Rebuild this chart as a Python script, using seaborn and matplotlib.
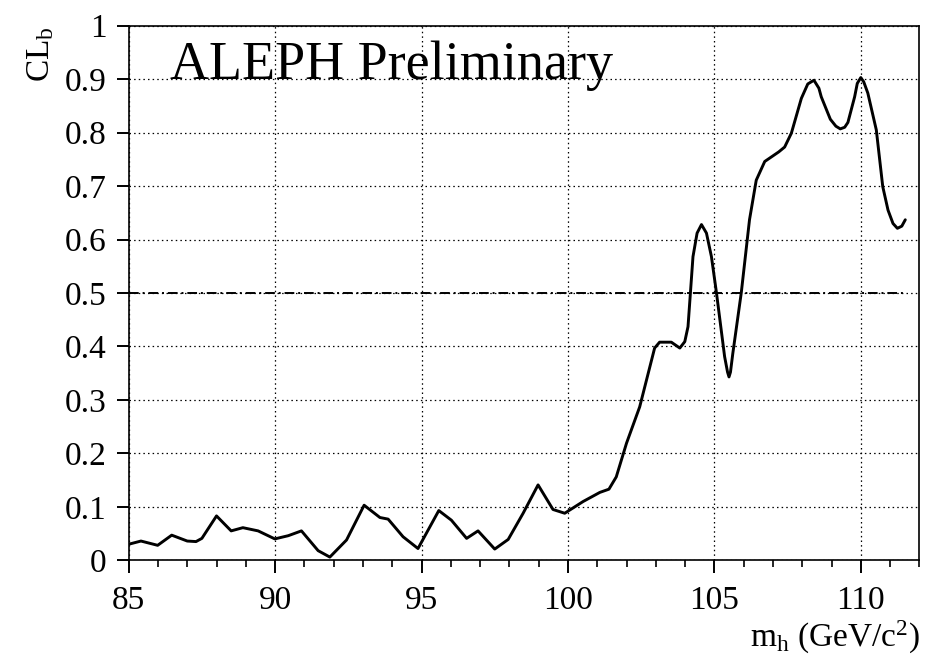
import matplotlib
matplotlib.use("Agg")
import matplotlib.pyplot as plt
from matplotlib.ticker import MultipleLocator
import seaborn as sns

# Higgs mass hypothesis (GeV/c^2) and background confidence level CL_b
mass = [85.0, 85.42, 85.99, 86.47, 87.0, 87.3, 87.5, 88.0, 88.5, 88.9,
        89.42, 89.99, 90.45, 90.9, 91.47, 91.87, 92.44, 93.04, 93.58, 93.86,
        94.37, 94.88, 95.59, 96.02, 96.54, 96.93, 97.5, 97.96, 98.47, 98.98,
        99.49, 99.89, 100.52, 101.09, 101.4, 101.65, 102.0, 102.45, 102.96, 103.13,
        103.53, 103.82, 103.99, 104.1, 104.27, 104.41, 104.56, 104.73, 104.9, 105.07,
        105.35, 105.45, 105.5, 105.55, 105.63, 105.92, 106.2, 106.43, 106.72, 107.2,
        107.4, 107.63, 107.97, 108.19, 108.4, 108.57, 108.65, 108.96, 109.15, 109.3,
        109.45, 109.56, 109.79, 109.88, 110.0, 110.1, 110.24, 110.53, 110.75, 110.93,
        111.1, 111.25, 111.4, 111.52]
clb = [0.030, 0.036, 0.028, 0.047, 0.036, 0.035, 0.041, 0.083, 0.055, 0.061,
       0.055, 0.040, 0.046, 0.055, 0.018, 0.006, 0.038, 0.103, 0.080, 0.077,
       0.044, 0.022, 0.093, 0.075, 0.041, 0.055, 0.021, 0.039, 0.088, 0.141,
       0.095, 0.088, 0.110, 0.127, 0.133, 0.156, 0.219, 0.287, 0.397, 0.408,
       0.408, 0.397, 0.409, 0.437, 0.568, 0.612, 0.628, 0.612, 0.568, 0.501,
       0.381, 0.352, 0.343, 0.352, 0.387, 0.501, 0.637, 0.711, 0.746, 0.764,
       0.773, 0.799, 0.864, 0.891, 0.898, 0.883, 0.867, 0.825, 0.812, 0.807,
       0.810, 0.819, 0.867, 0.892, 0.903, 0.895, 0.874, 0.805, 0.699, 0.655,
       0.630, 0.621, 0.625, 0.637]

y_ticks = [0, 0.1, 0.2, 0.3, 0.4, 0.5, 0.6, 0.7, 0.8, 0.9, 1.0]
y_tick_labels = ["0", "0.1", "0.2", "0.3", "0.4", "0.5", "0.6", "0.7", "0.8", "0.9", "1"]
reference_level = 0.5
title_text = "ALEPH Preliminary"
x_label = r"m$_\mathrm{h}$ (GeV/c$^\mathrm{2}$)"
y_label = r"CL$_\mathrm{b}$"

sns.set_style("ticks")
plt.rcParams.update({
    "font.family": ["Liberation Serif", "DejaVu Serif"],
    "mathtext.fontset": "custom",
    "mathtext.rm": "Liberation Serif",
    "mathtext.it": "Liberation Serif:italic",
    "text.color": "black",
    "axes.labelcolor": "black",
    "axes.edgecolor": "black",
    "xtick.color": "black",
    "ytick.color": "black",
    "xtick.direction": "out",
    "ytick.direction": "out",
    "xtick.major.size": 9,
    "ytick.major.size": 9,
    "xtick.minor.size": 5,
    "xtick.major.width": 1.4,
    "ytick.major.width": 1.4,
    "xtick.minor.width": 1.2,
    "xtick.major.pad": 9,
    "ytick.major.pad": 7,
    "xtick.labelsize": 24,
    "ytick.labelsize": 24,
})

fig = plt.figure(figsize=(9.25, 6.71), dpi=100)
ax = fig.add_axes([0.1391, 0.1650, 0.9939 - 0.1391, 0.9617 - 0.1650])

# dotted grid behind everything
ax.set_axisbelow(True)
ax.grid(True, which="major", color="black", linestyle=(0, (1.2, 2.5)), linewidth=0.9)

sns.lineplot(x=mass, y=clb, ax=ax, color="black", linewidth=2.1, sort=False)

# 50% reference level
ax.hlines(reference_level, mass[0], mass[-1], colors="black",
          linestyles=[(0, (5, 2, 1, 2))], linewidth=1.4)

ax.text(86.4, 0.9, title_text, fontsize=39, ha="left", va="baseline")

ax.set_xlim(85, 112)
ax.set_ylim(0, 1)
ax.xaxis.set_major_locator(MultipleLocator(5))
ax.xaxis.set_minor_locator(MultipleLocator(1))
ax.set_yticks(y_ticks)
ax.set_yticklabels(y_tick_labels)

for side in ["left", "bottom", "top", "right"]:
    ax.spines[side].set_visible(True)
    ax.spines[side].set_color("black")
    ax.spines[side].set_linewidth(1.2)

ax.set_xlabel(x_label, fontsize=24, loc="right", labelpad=2)
ax.set_ylabel(y_label, fontsize=24, loc="top", labelpad=6)

fig.savefig("out.png", dpi=100)
